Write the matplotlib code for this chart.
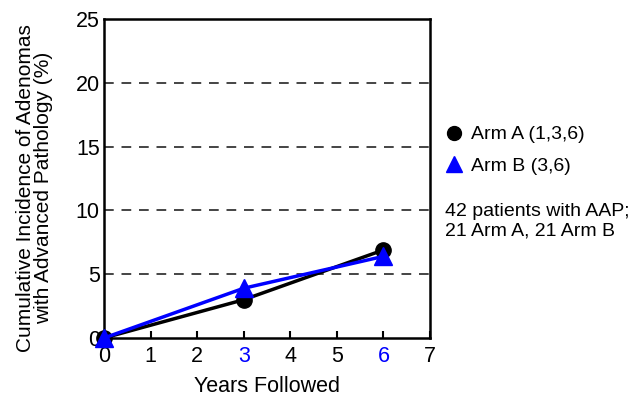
import matplotlib
matplotlib.use('Agg')
import matplotlib.pyplot as plt

plt.rcParams['font.family'] = ['Liberation Sans', 'DejaVu Sans']

# -- data
years = [0, 3, 6]
arm_a = [0.0, 3.0, 6.9]
arm_b = [0.0, 3.9, 6.4]
grid_levels = [5, 10, 15, 20]
x_ticks = [0, 1, 2, 3, 4, 5, 6, 7]
y_ticks = [0, 5, 10, 15, 20, 25]
blue_ticks = [3, 6]

fig = plt.figure(figsize=(6.36, 3.96), dpi=100)
ax = fig.add_axes([0.1635, 0.1465, 0.5126, 0.805])

for g in grid_levels:
    ax.hlines(g, 0, 7, color='#444444', lw=1.4, ls=(0, (5, 4)), zorder=1)

ax.plot(years, arm_a, color='black', lw=2.5, marker='o', ms=11,
        zorder=3, clip_on=False)
ax.plot(years, arm_b, color='#0000ff', lw=2.5, marker='^', ms=13,
        zorder=4, clip_on=False)

ax.set_xlim(0, 7)
ax.set_ylim(0, 25)
ax.set_xticks(x_ticks)
ax.set_yticks(y_ticks)
ax.tick_params(axis='x', direction='in', length=5, width=1.5, labelsize=15.5, pad=6)
ax.tick_params(axis='y', length=0, labelsize=15.5, pad=3)
for lab in ax.get_xticklabels():
    if int(lab.get_text()) in blue_ticks:
        lab.set_color('#0000ff')
for s in ax.spines.values():
    s.set_linewidth(1.8)

ax.set_xlabel('Years Followed', fontsize=15.5, labelpad=6)
ax.set_ylabel('Cumulative Incidence of Adenomas\nwith Advanced Pathology (%)',
              fontsize=15, linespacing=0.95)
ax.yaxis.set_label_coords(-0.155, 0.47)

# legend: markers only
ax.plot([], [], ls='none', color='black', marker='o', ms=10, label='Arm A (1,3,6)')
ax.plot([], [], ls='none', color='#0000ff', marker='^', ms=11, label='Arm B (3,6)')
ax.legend(loc='upper left', bbox_to_anchor=(1.025, 0.69), frameon=False,
          fontsize=14, handlelength=0.8, handletextpad=0.5, labelspacing=0.7,
          borderaxespad=0)
ax.text(1.045, 0.425, '42 patients with AAP;\n21 Arm A, 21 Arm B',
        transform=ax.transAxes, fontsize=14, va='top', ha='left',
        linespacing=1.2)

fig.savefig('out.png', dpi=100)
